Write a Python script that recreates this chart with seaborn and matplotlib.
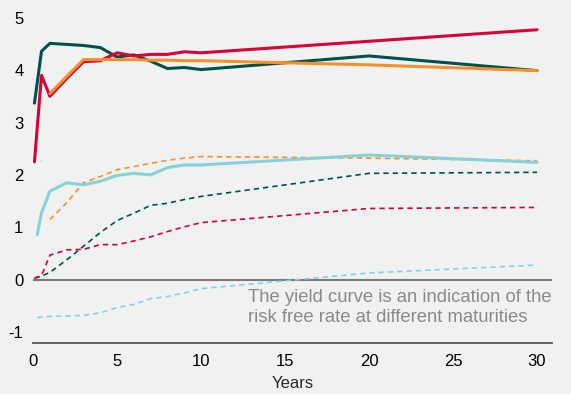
import pandas as pd
import matplotlib.pyplot as plt
import seaborn as sns

# maturities (years)
mat_full = [0.08, 0.5, 1, 2, 3, 4, 5, 6, 7, 8, 9, 10, 20, 30]
mat_blue = [0.25, 0.5, 1, 2, 3, 4, 5, 6, 7, 8, 9, 10, 20, 30]
mat_orange = [1, 2, 3, 4, 5, 6, 7, 8, 9, 10, 20, 30]

# nominal yields (solid)
red_nom = [2.25, 3.9, 3.5, 3.84, 4.16, 4.18, 4.33, 4.27, 4.3, 4.3, 4.35, 4.33, 4.55, 4.77]
green_nom = [3.37, 4.36, 4.51, 4.49, 4.47, 4.43, 4.25, 4.29, 4.17, 4.03, 4.05, 4.01, 4.27, 3.99]
orange_nom = [3.55, 3.88, 4.2, 4.2, 4.2, 4.2, 4.19, 4.19, 4.18, 4.18, 4.1, 3.99]
blue_nom = [0.86, 1.28, 1.69, 1.85, 1.81, 1.88, 1.99, 2.03, 2.0, 2.14, 2.19, 2.19, 2.38, 2.24]

# real yields (dashed)
orange_real = [1.15, 1.47, 1.85, 1.97, 2.1, 2.16, 2.22, 2.28, 2.32, 2.35, 2.32, 2.27]
green_real = [0.03, 0.07, 0.14, 0.38, 0.64, 0.9, 1.13, 1.27, 1.42, 1.46, 1.53, 1.59, 2.03, 2.05]
red_real = [0.03, 0.08, 0.47, 0.57, 0.58, 0.67, 0.67, 0.74, 0.82, 0.92, 1.01, 1.09, 1.36, 1.38]
blue_real = [-0.72, -0.71, -0.7, -0.69, -0.68, -0.63, -0.53, -0.47, -0.36, -0.32, -0.25, -0.17, 0.13, 0.28]

RED = '#d6003a'
GREEN = '#00504b'
ORANGE = '#f7902c'
BLUE = '#88d2d7'
BG = '#eff2f0'

sns.set_style('white', {'axes.facecolor': BG, 'figure.facecolor': BG})
plt.rcParams['font.family'] = ['Liberation Sans', 'DejaVu Sans']
plt.rcParams['axes.unicode_minus'] = False

fig, ax = plt.subplots(figsize=(5.71, 3.94), dpi=100)
fig.subplots_adjust(left=0.058, right=0.967, bottom=0.129, top=0.995)

# real yields, dashed, drawn underneath
dashed = [(mat_orange, orange_real, ORANGE), (mat_full, green_real, GREEN),
          (mat_full, red_real, RED), (mat_blue, blue_real, BLUE)]
for xs, ys, c in dashed:
    sns.lineplot(x=xs, y=ys, ax=ax, color=c, lw=1.2, dashes=False,
                 linestyle=(0, (3.2, 2.4)))

# nominal yields, solid
solid = [(mat_full, green_nom, GREEN), (mat_full, red_nom, RED),
         (mat_orange, orange_nom, ORANGE), (mat_blue, blue_nom, BLUE)]
for xs, ys, c in solid:
    sns.lineplot(x=xs, y=ys, ax=ax, color=c, lw=2.2)

ax.axhline(0, color='#7a7a7a', lw=1.5, zorder=1)

ax.set_xlim(0, 30.9)
ax.set_ylim(-1.21, 5.3)
ax.set_xticks([0, 5, 10, 15, 20, 25, 30])
ax.set_yticks([-1, 0, 1, 2, 3, 4, 5])
ax.tick_params(length=0, labelsize=12, colors='black')
ax.tick_params(axis='y', pad=7)
ax.tick_params(axis='x', pad=8)

for s in ['top', 'right', 'left']:
    ax.spines[s].set_visible(False)
ax.spines['bottom'].set_color('#555555')
ax.spines['bottom'].set_linewidth(1.3)

ax.set_xlabel('Years', fontsize=12, labelpad=5)
ax.set_ylabel('')

ax.text(12.8, -0.17, 'The yield curve is an indication of the\nrisk free rate at different maturities',
        fontsize=13.3, color='#8a8a8a', va='top', ha='left', linespacing=1.27)

plt.savefig('out.png', dpi=100, facecolor=BG)
